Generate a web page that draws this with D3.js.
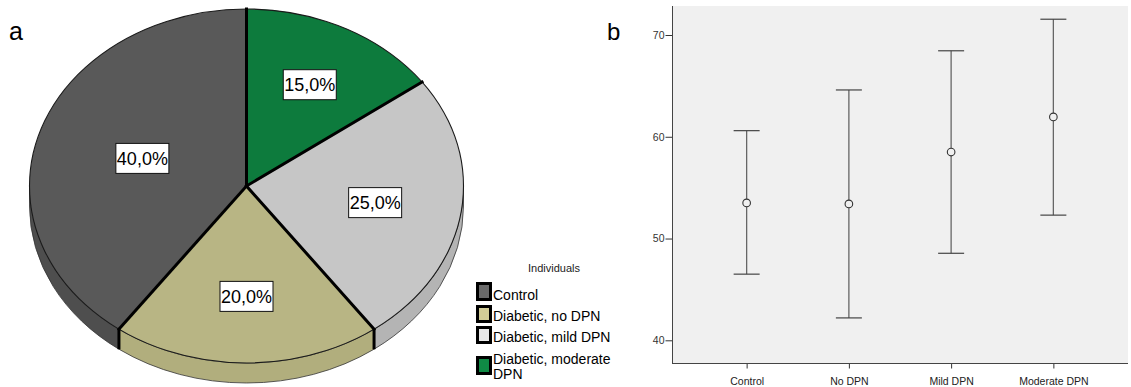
<!DOCTYPE html>
<html>
<head>
<meta charset="utf-8">
<script src="https://cdn.jsdelivr.net/npm/d3@7/dist/d3.min.js"></script>
<style>
  html, body { margin: 0; padding: 0; background: #fff; }
  svg { display: block; }
  text { font-family: "Liberation Sans", Arial, sans-serif; }
</style>
</head>
<body>
<svg id="chart" width="1131" height="387"></svg>
<script>
// Panel a: share of individuals per group (%)
const pieCategories = ["Control", "Diabetic, no DPN", "Diabetic, mild DPN", "Diabetic, moderate DPN"];
const piePercents = [40, 20, 25, 15];
const legendLines = [["Control"], ["Diabetic, no DPN"], ["Diabetic, mild DPN"], ["Diabetic, moderate", "DPN"]];

// Panel b: mean with 95% CI per group
const groups = ["Control", "No DPN", "Mild DPN", "Moderate DPN"];
const means = [53.5, 53.4, 58.5, 61.95];
const ciLower = [46.5, 42.2, 48.55, 52.3];
const ciUpper = [60.6, 64.6, 68.45, 71.55];
const yTicks = [40, 50, 60, 70];

const topColors = ["#595959", "#b8b584", "#c6c6c6", "#0d7b3d"];
const sideColors = ["#4e4e4e", "#b1ae7d", "#b4b4b4", "#0a6a34"];
const swatchColors = ["#6a6a6a", "#d2cd97", "#e8e8e8", "#0f8a45"];

const svg = d3.select("#chart");

// ---------- Panel a: 3D-style pie ----------
const cx = 246.5, cy = 186, rx = 217, ry = 177, depth = 20;
const pt = (a, dz = 0, f = 1) => [cx + f * rx * Math.sin(a), cy - f * ry * Math.cos(a) + dz];

const pie = d3.pie().sort(null).startAngle(0).endAngle(-2 * Math.PI).value(d => d);
const arcs = pie(piePercents);

const gA = svg.append("g");

// sides (front half only)
arcs.forEach((d, i) => {
  const hi = Math.min(d.startAngle, -Math.PI / 2);
  const lo = Math.max(d.endAngle, -3 * Math.PI / 2);
  if (hi <= lo) return;
  const p0 = pt(hi), p1 = pt(lo), q1 = pt(lo, depth), q0 = pt(hi, depth);
  const path = `M${p0}A${rx},${ry} 0 0 0 ${p1}L${q1}A${rx},${ry} 0 0 1 ${q0}Z`;
  gA.append("path").attr("d", path).attr("fill", sideColors[i])
    .attr("stroke", "#333").attr("stroke-width", 0.8);
});

// top faces
arcs.forEach((d, i) => {
  const p0 = pt(d.startAngle), p1 = pt(d.endAngle);
  const large = Math.abs(d.endAngle - d.startAngle) > Math.PI ? 1 : 0;
  const path = `M${cx},${cy}L${p0}A${rx},${ry} 0 ${large} 0 ${p1}Z`;
  gA.append("path").attr("d", path).attr("fill", topColors[i]);
});

// outer rim of the top face
gA.append("ellipse").attr("cx", cx).attr("cy", cy).attr("rx", rx).attr("ry", ry)
  .attr("fill", "none").attr("stroke", "#1a1a1a").attr("stroke-width", 1.1);

// slice separators: radial lines on top, vertical edges on the visible side
arcs.forEach(d => {
  const a = d.startAngle;
  gA.append("line").attr("x1", cx).attr("y1", cy)
    .attr("x2", pt(a)[0]).attr("y2", pt(a)[1])
    .attr("stroke", "#000").attr("stroke-width", 3).attr("stroke-linecap", "square");
  if (a < -Math.PI / 2 && a > -3 * Math.PI / 2) {
    gA.append("line").attr("x1", pt(a)[0]).attr("y1", pt(a)[1])
      .attr("x2", pt(a, depth)[0]).attr("y2", pt(a, depth)[1])
      .attr("stroke", "#000").attr("stroke-width", 3);
  }
});

// percentage labels at the area centroid of each sector
arcs.forEach(d => {
  const theta = Math.abs(d.endAngle - d.startAngle);
  const mid = (d.startAngle + d.endAngle) / 2;
  const f = 4 * Math.sin(theta / 2) / (3 * theta);
  const [lx, ly] = pt(mid, 0, f);
  const g = gA.append("g").attr("transform", `translate(${lx},${ly})`);
  g.append("rect").attr("x", -26.5).attr("y", -15).attr("width", 53).attr("height", 30)
    .attr("fill", "#fff").attr("stroke", "#111").attr("stroke-width", 1);
  g.append("text").attr("text-anchor", "middle").attr("y", 6.5)
    .attr("font-size", 18).attr("fill", "#000")
    .text(d3.format(".1f")(d.data).replace(".", ",") + "%");
});

// legend
const lg = svg.append("g");
lg.append("text").attr("x", 554).attr("y", 272).attr("text-anchor", "middle")
  .attr("font-size", 11).attr("fill", "#222").text("Individuals");
const rowY = [300, 321, 342, 364];
const swatchY = [283.5, 306.5, 327.5, 357.5];
const swatchH = [16, 15, 15, 16];
pieCategories.forEach((c, i) => {
  lg.append("rect").attr("x", 477.5).attr("y", swatchY[i]).attr("width", 13).attr("height", swatchH[i])
    .attr("fill", swatchColors[i]).attr("stroke", "#000").attr("stroke-width", 3);
  const t = lg.append("text").attr("x", 493).attr("y", rowY[i]).attr("font-size", 14).attr("fill", "#000");
  legendLines[i].forEach((ln, j) => {
    t.append("tspan").attr("x", 493).attr("dy", j === 0 ? 0 : 15).text(ln);
  });
});

// panel letters
svg.append("text").attr("x", 9).attr("y", 40).attr("font-size", 25).attr("fill", "#000").text("a");
svg.append("text").attr("x", 607).attr("y", 40).attr("font-size", 24).attr("fill", "#000").text("b");

// ---------- Panel b: error bars ----------
const plotL = 672, plotR = 1128, plotT = 6, plotB = 363;
const y = d3.scaleLinear().domain([40, 70]).range([340.3, 35]);
const x = d3.scalePoint().domain(groups).range([plotL, plotR]).padding(0.73);

const gB = svg.append("g");
gB.append("rect").attr("x", plotL).attr("y", plotT).attr("width", plotR - plotL).attr("height", plotB - plotT)
  .attr("fill", "#f0f0f0");

const yAxis = gB.append("g").attr("transform", `translate(${plotL + 0.5},0)`)
  .call(d3.axisLeft(y).tickValues(yTicks).tickSize(7).tickPadding(1).tickFormat(d3.format("d")));
yAxis.select(".domain").remove();
yAxis.selectAll("line").attr("stroke", "#333");
yAxis.selectAll("text").attr("font-size", 10.5).attr("fill", "#333")
  .attr("font-family", "Liberation Sans, Arial, sans-serif");

const xAxis = gB.append("g").attr("transform", `translate(0,${plotB + 0.5})`)
  .call(d3.axisBottom(x).tickSize(5).tickPadding(9));
xAxis.select(".domain").remove();
xAxis.selectAll("line").attr("stroke", "#333");
xAxis.selectAll("text").attr("font-size", 10.5).attr("fill", "#222")
  .attr("font-family", "Liberation Sans, Arial, sans-serif");

gB.append("line").attr("x1", plotL + 0.5).attr("x2", plotL + 0.5).attr("y1", plotT).attr("y2", plotB + 1)
  .attr("stroke", "#444").attr("stroke-width", 1);
gB.append("line").attr("x1", plotL).attr("x2", plotR).attr("y1", plotB + 0.5).attr("y2", plotB + 0.5)
  .attr("stroke", "#444").attr("stroke-width", 1);

const capW = 13;
groups.forEach((g, i) => {
  const gx = x(g);
  gB.append("line").attr("x1", gx).attr("x2", gx).attr("y1", y(ciUpper[i])).attr("y2", y(ciLower[i]))
    .attr("stroke", "#666").attr("stroke-width", 1.3);
  [ciUpper[i], ciLower[i]].forEach(v => {
    gB.append("line").attr("x1", gx - capW).attr("x2", gx + capW).attr("y1", y(v)).attr("y2", y(v))
      .attr("stroke", "#444").attr("stroke-width", 1.2);
  });
  gB.append("circle").attr("cx", gx).attr("cy", y(means[i])).attr("r", 3.8)
    .attr("fill", "#f0f0f0").attr("stroke", "#333").attr("stroke-width", 1.1);
});
</script>
</body>
</html>
